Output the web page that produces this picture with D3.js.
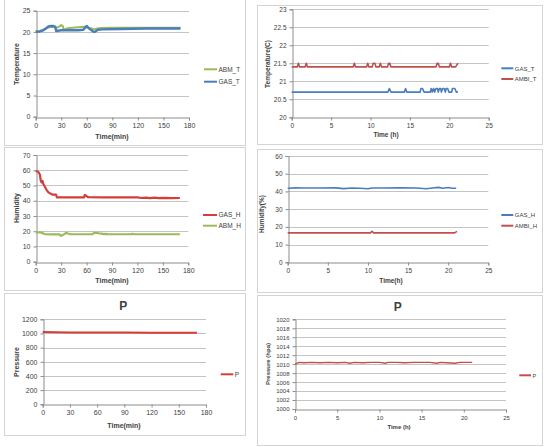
<!DOCTYPE html>
<html><head><meta charset="utf-8">
<script src="https://cdn.jsdelivr.net/npm/d3@7"></script>
<style>
html,body{margin:0;padding:0;background:#fff;}
svg{display:block;}
text{font-family:"Liberation Sans",Arial,sans-serif;fill:#404040;}
</style></head>
<body>
<svg id="c" width="552" height="447"></svg>
<script>
// ---------- DATA ----------
// Panel 1: temperature vs time (min)
const p1_xTicks = [0,30,60,90,120,150,180];
const p1_yTicks = [0,5,10,15,20,25];
const p1_ABM_T = [[0,20.2],[5,20.3],[10,20.6],[14,21.0],[18,21.2],[22,21.1],[25,21.0],[28,21.3],[30,21.6],[32,21.3],[33,20.4],[36,20.8],[40,20.9],[50,21.1],[57,21.2],[62,21.0],[66,20.8],[68,20.6],[72,20.8],[78,20.9],[90,21.0],[120,21.0],[150,21.0],[170,21.0]];
const p1_GAS_T = [[0,20.0],[5,20.1],[8,20.3],[12,20.8],[15,21.3],[18,21.4],[21,21.4],[23,21.2],[24,20.2],[30,20.4],[40,20.4],[50,20.4],[56,20.5],[58,21.0],[60,21.4],[62,20.9],[64,20.6],[68,20.0],[70,20.1],[73,20.5],[78,20.6],[100,20.7],[130,20.8],[170,20.8]];

// Panel 2: temperature vs time (h)
const p2_xTicks = [0,5,10,15,20,25];
const p2_yTicks = [20,20.5,21,21.5,22,22.5,23];
const p2_GAS_T = [[0,20.7],[12.2,20.7],[12.4,20.8],[12.6,20.7],[14.3,20.7],[14.45,20.8],[14.6,20.7],[16.3,20.7],[16.4,20.8],[16.6,20.8],[16.8,20.7],[17.6,20.7],[17.7,20.8],[17.85,20.7],[18.0,20.8],[18.15,20.7],[18.3,20.8],[18.5,20.8],[18.6,20.7],[18.75,20.8],[18.9,20.8],[19.0,20.7],[19.15,20.8],[19.35,20.8],[19.5,20.7],[19.6,20.8],[19.8,20.8],[19.95,20.7],[20.3,20.7],[20.4,20.8],[20.7,20.8],[20.9,20.7],[21.1,20.7]];
const p2_AMBI_T = [[0,21.4],[0.7,21.4],[0.85,21.5],[1.0,21.4],[1.7,21.4],[1.85,21.5],[2.0,21.4],[7.8,21.4],[7.95,21.5],[8.1,21.4],[9.5,21.4],[9.65,21.5],[9.8,21.4],[10.2,21.4],[10.35,21.5],[10.55,21.5],[10.7,21.4],[11.1,21.4],[11.25,21.5],[11.4,21.4],[12.15,21.4],[12.3,21.5],[12.45,21.5],[12.6,21.4],[18.3,21.4],[18.45,21.5],[18.6,21.5],[18.75,21.4],[20.0,21.4],[20.15,21.5],[20.3,21.4],[20.8,21.4],[21.1,21.5]];

// Panel 3: humidity vs time (min)
const p3_xTicks = [0,30,60,90,120,150,180];
const p3_yTicks = [0,10,20,30,40,50,60,70];
const p3_GAS_H = [[0,59.5],[3,59],[5,57],[6,53],[7,52],[8,53],[9,51],[11,49],[13,47],[15,45.5],[18,44.5],[20,44],[24,44],[25,42.2],[40,42.2],[57,42.2],[58,43.8],[60,43],[62,42.3],[80,42.2],[100,42.2],[120,42.2],[125,41.8],[130,42],[135,41.7],[140,42],[145,41.7],[150,41.9],[160,41.7],[170,41.8]];
const p3_ABM_H = [[0,19.2],[5,19.2],[8,18.8],[10,18.2],[12,18],[20,17.9],[28,17.9],[30,16.9],[32,17.6],[34,18.2],[36,18.9],[38,18.5],[41,18],[50,18],[60,18],[67,18],[69,18.9],[72,19],[75,18.5],[78,18.4],[80,18.1],[82,18.3],[85,18.1],[90,18],[113,18],[114,18.3],[116,18],[140,18],[170,18]];

// Panel 4: humidity vs time (h)
const p4_xTicks = [0,5,10,15,20,25];
const p4_yTicks = [0,10,20,30,40,50,60];
const p4_GAS_H = [[0,41.8],[1,42],[2,41.9],[4,41.9],[6,42],[7,41.6],[8,41.9],[9,41.8],[10,41.5],[10.5,41.9],[12,41.9],[14,42],[16,41.9],[17.3,41.5],[18,41.9],[18.8,42.3],[19.3,41.8],[20,42.2],[20.5,41.8],[21,41.8]];
const p4_AMBI_H = [[0,16.6],[10.3,16.6],[10.5,17.5],[10.7,16.6],[20.8,16.6],[21.1,17.5]];

// Panel 5: pressure vs time (min)
const p5_xTicks = [0,30,60,90,120,150,180];
const p5_yTicks = [0,200,400,600,800,1000,1200];
const p5_P = [[0,1020],[30,1015],[60,1013],[90,1012],[120,1011],[150,1011],[170,1010]];

// Panel 6: pressure vs time (h)
const p6_xTicks = [0,5,10,15,20,25];
const p6_yTicks = [1000,1002,1004,1006,1008,1010,1012,1014,1016,1018,1020];
const p6_P = [[0,1010.0],[0.5,1010.4],[1,1010.3],[2,1010.4],[3,1010.3],[4,1010.4],[5,1010.3],[6,1010.4],[6.5,1010.2],[7,1010.4],[8,1010.3],[9,1010.4],[10,1010.4],[10.7,1010.2],[11,1010.4],[12,1010.4],[13,1010.3],[14,1010.4],[15,1010.4],[16,1010.4],[16.8,1010.2],[17.2,1010.4],[18,1010.3],[19,1010.2],[19.5,1010.4],[20,1010.4],[21,1010.4]];

// ---------- DRAW ----------
const svg = d3.select("#c");
const GREEN="#9bbb59", BLUE="#4a7ebb", RED_L="#d63d38", RED="#c0504d";

function panel(o){
  svg.append("rect").attr("x",o.frame[0]+0.5).attr("y",o.frame[1]+0.5)
    .attr("width",o.frame[2]-o.frame[0]).attr("height",o.frame[3]-o.frame[1])
    .attr("fill","#fff").attr("stroke","#d4d4d4").attr("stroke-width",1);
  const x = d3.scaleLinear().domain(o.xDom).range([o.px0,o.px1]);
  const y = d3.scaleLinear().domain(o.yDom).range([o.py0,o.py1]);
  const g = svg.append("g");
  g.selectAll(".gl").data(o.yTicks.filter(v=>v!==o.yDom[0])).enter().append("line")
    .attr("x1",o.px0).attr("x2",o.px1).attr("y1",d=>Math.round(y(d))+0.5).attr("y2",d=>Math.round(y(d))+0.5)
    .attr("stroke","#c4c4c4").attr("stroke-width",1);
  const fs = o.fs||6.5;
  const ya = g.append("g").attr("transform",`translate(${Math.round(o.px0)+0.5},0)`)
    .call(d3.axisLeft(y).tickValues(o.yTicks).tickSize(3).tickPadding(3).tickFormat(d=>d));
  const xa = g.append("g").attr("transform",`translate(0,${Math.round(o.py0)+0.5})`)
    .call(d3.axisBottom(x).tickValues(o.xTicks).tickSize(3).tickPadding(3).tickFormat(d=>d));
  [ya,xa].forEach(a=>{
    a.select(".domain").attr("stroke","#8c8c8c");
    a.selectAll(".tick line").attr("stroke","#8c8c8c");
    a.selectAll("text").attr("font-size",fs).attr("fill","#4a4a4a").style("font-family","'Liberation Sans',Arial,sans-serif");
  });
  const line = d3.line().x(d=>x(d[0])).y(d=>y(d[1]));
  o.series.forEach(s=>{
    g.append("path").datum(s.data).attr("d",line).attr("fill","none")
      .attr("stroke",s.color).attr("stroke-width",s.w||o.lw).attr("stroke-linejoin","round");
  });
  svg.append("text").attr("x",o.xtPos[0]).attr("y",o.xtPos[1]).attr("text-anchor","middle")
    .attr("font-size",fs).attr("font-weight","bold").text(o.xTitle);
  svg.append("text").attr("transform",`translate(${o.ytPos[0]},${o.ytPos[1]}) rotate(-90)`)
    .attr("text-anchor","middle").attr("font-size",fs).attr("font-weight","bold").text(o.yTitle);
  if(o.title){
    svg.append("text").attr("x",o.title[0]).attr("y",o.title[1]).attr("text-anchor","middle")
      .attr("font-size",12).attr("font-weight","bold").attr("fill","#222").text(o.title[2]);
  }
  o.series.forEach((s,i)=>{
    const ly = o.leg[1]+i*o.leg[3];
    svg.append("line").attr("x1",o.leg[0]).attr("x2",o.leg[0]+o.leg[2]).attr("y1",ly).attr("y2",ly)
      .attr("stroke",s.color).attr("stroke-width",2);
    svg.append("text").attr("x",o.leg[0]+o.leg[2]+1.5).attr("y",ly+2.3).attr("font-size",fs-0.5).text(s.name);
  });
}

panel({frame:[4,-1,245,145], xDom:[0,180], yDom:[0,25], px0:35.7, px1:189, py0:116.7, py1:10.7,
  xTicks:p1_xTicks, yTicks:p1_yTicks, lw:2, fs:7,
  series:[{name:"ABM_T",color:GREEN,data:p1_ABM_T},{name:"GAS_T",color:BLUE,data:p1_GAS_T,w:2.4}],
  xTitle:"Time(min)", xtPos:[112,138.5], yTitle:"Temperature", ytPos:[19,64],
  leg:[204,69.3,13,12.4]});

panel({frame:[257,5,542,144], xDom:[0,25], yDom:[20,23], px0:291.7, px1:488.7, py0:117.3, py1:9.3,
  xTicks:p2_xTicks, yTicks:p2_yTicks, lw:1.6,
  series:[{name:"GAS_T",color:BLUE,data:p2_GAS_T},{name:"AMBI_T",color:RED,data:p2_AMBI_T}],
  xTitle:"Time (h)", xtPos:[386,136.5], yTitle:"Temperature(C)", ytPos:[270,64],
  leg:[501.3,68.3,12,10.7]});

panel({frame:[4,147,245,290], xDom:[0,180], yDom:[0,70], px0:35.7, px1:188.3, py0:261.7, py1:155,
  xTicks:p3_xTicks, yTicks:p3_yTicks, lw:2.2, fs:7,
  series:[{name:"GAS_H",color:RED_L,data:p3_GAS_H},{name:"ABM_H",color:GREEN,data:p3_ABM_H}],
  xTitle:"Time(min)", xtPos:[112,283], yTitle:"Humidity", ytPos:[19,208],
  leg:[203,215,14,10.7]});

panel({frame:[257,149,542,292], xDom:[0,25], yDom:[0,60], px0:287.7, px1:488.3, py0:262.3, py1:156,
  xTicks:p4_xTicks, yTicks:p4_yTicks, lw:1.6,
  series:[{name:"GAS_H",color:BLUE,data:p4_GAS_H},{name:"AMBI_H",color:RED,data:p4_AMBI_H}],
  xTitle:"Time(h)", xtPos:[391,282.5], yTitle:"Humidity(%)", ytPos:[264,214],
  leg:[501.3,215,12,10.7]});

panel({frame:[4,293,245,435], xDom:[0,180], yDom:[0,1200], px0:42.7, px1:206, py0:404.3, py1:319.3,
  xTicks:p5_xTicks, yTicks:p5_yTicks, lw:2, fs:7,
  series:[{name:"P",color:RED_L,data:p5_P}],
  xTitle:"Time(min)", xtPos:[124,427.5], yTitle:"Pressure", ytPos:[19,362],
  title:[123.3,309.5,"P"], leg:[220.7,374.3,12.6,0]});

panel({frame:[257,295,542,445], xDom:[0,25], yDom:[1000,1020], px0:295, px1:506, py0:409, py1:319.3,
  xTicks:p6_xTicks, yTicks:p6_yTicks, lw:1.4, fs:6,
  series:[{name:"P",color:RED,data:p6_P}],
  xTitle:"Time (h)", xtPos:[399,429], yTitle:"Pressure (hpa)", ytPos:[270,364],
  title:[397.7,311,"P"], leg:[519.3,375.3,11.7,0]});
</script>
</body></html>
